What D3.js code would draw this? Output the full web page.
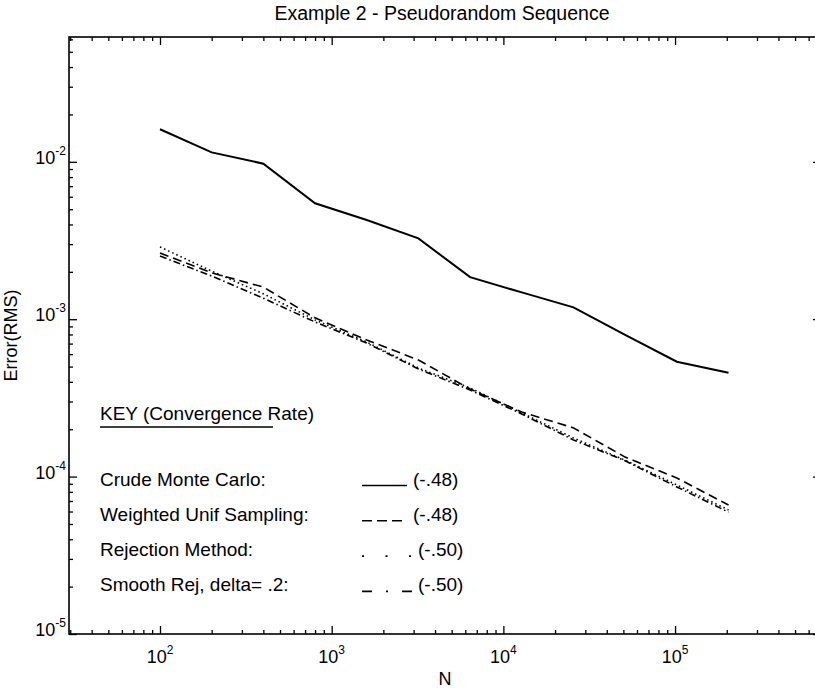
<!DOCTYPE html>
<html lang="en">
<head>
	<title>Example 2 - Pseudorandom Sequence</title>
	<meta charset="utf-8">
	<script src="https://d3js.org/d3.v7.min.js"></script>
	<style>
	body {margin: 0; background: #ffffff;}
	svg text {font-family: "Liberation Sans", Arial, Helvetica, sans-serif; fill: #000;}
	.axis path {display: none;}
	.axis line {stroke: #000; stroke-width: 1.3;}
	</style>
</head>
<body>
<div id="chart"></div>
<script>

// Sample sizes
var nValues = [100, 200, 400, 800, 1600, 3200, 6400, 12800, 25600, 51200, 102400, 204800];

// RMS error of each method
var crude = [0.0161, 0.01148, 0.00973, 0.00545, 0.00427, 0.00326, 0.00185, 0.00148, 0.00119, 0.000794, 0.000537, 0.000457];
var weighted = [0.00263, 0.00197, 0.00160, 0.00102, 0.000738, 0.000551, 0.000360, 0.000257, 0.000204, 0.000133, 0.0000980, 0.0000660];
var rejection = [0.00288, 0.00202, 0.00145, 0.00099, 0.000716, 0.000490, 0.000366, 0.000254, 0.000176, 0.000127, 0.0000885, 0.0000614];
var smoothRej = [0.00252, 0.00188, 0.00136, 0.00096, 0.000706, 0.000483, 0.000355, 0.000250, 0.000171, 0.000126, 0.0000860, 0.0000595];

// Legend text
var seriesNames = ["Crude Monte Carlo:", "Weighted Unif Sampling:", "Rejection Method:", "Smooth Rej, delta= .2:"];
var seriesRates = ["(-.48)", "(-.48)", "(-.50)", "(-.50)"];

// Tick labels (powers of ten)
var xPowers = [2, 3, 4, 5];
var yPowers = [-5, -4, -3, -2];

var width = 815;
var height = 692;
// plot box edges (right edge sits just past the picture)
var plotLeft = 69, plotRight = 821, plotTop = 37, plotBottom = 634;

var svg = d3.select("#chart").append("svg")
	.attr("width", width)
	.attr("height", height);

var xScale = d3.scaleLog()
	.domain([Math.pow(10, 1.47), Math.pow(10, 5.85)])
	.range([plotLeft, plotRight]);

var yScale = d3.scaleLog()
	.domain([1e-5, Math.pow(10, -1.207)])
	.range([plotBottom, plotTop]);

// major and minor tick values
var xMajor = xPowers.map(function(p){return Math.pow(10, p);});
var yMajor = yPowers.map(function(p){return Math.pow(10, p);});
var xMinor = [], yMinor = [];
for (var p = 1; p <= 5; p++) {
	for (var k = 2; k <= 9; k++) {
		var v = k * Math.pow(10, p);
		if (v > xScale.domain()[0] && v < xScale.domain()[1]) xMinor.push(v);
	}
}
for (var q = -5; q <= -2; q++) {
	for (var k2 = 2; k2 <= 9; k2++) {
		var w = k2 * Math.pow(10, q);
		if (w > yScale.domain()[0] && w < yScale.domain()[1]) yMinor.push(w);
	}
}

// inward ticks on all four sides
function addAxis(axisFn, scale, values, size, transform) {
	svg.append("g")
		.attr("class", "axis")
		.attr("transform", transform)
		.call(axisFn(scale).tickValues(values).tickSize(size).tickFormat(""));
}
addAxis(d3.axisBottom, xScale, xMajor, -8, "translate(0," + plotBottom + ")");
addAxis(d3.axisBottom, xScale, xMinor, -4, "translate(0," + plotBottom + ")");
addAxis(d3.axisTop, xScale, xMajor, -8, "translate(0," + plotTop + ")");
addAxis(d3.axisTop, xScale, xMinor, -4, "translate(0," + plotTop + ")");
addAxis(d3.axisLeft, yScale, yMajor, -8, "translate(" + plotLeft + ",0)");
addAxis(d3.axisLeft, yScale, yMinor, -4, "translate(" + plotLeft + ",0)");
addAxis(d3.axisRight, yScale, yMajor, -8, "translate(" + plotRight + ",0)");
addAxis(d3.axisRight, yScale, yMinor, -4, "translate(" + plotRight + ",0)");

// frame
svg.append("rect")
	.attr("x", plotLeft)
	.attr("y", plotTop)
	.attr("width", plotRight - plotLeft)
	.attr("height", plotBottom - plotTop)
	.attr("fill", "none")
	.attr("stroke", "#000")
	.attr("stroke-width", 1.6);

// x tick labels
var xLab = svg.selectAll(".xlab")
	.data(xPowers)
	.enter()
	.append("text")
		.attr("class", "xlab")
		.attr("x", function(d){return xScale(Math.pow(10, d));})
		.attr("y", 663)
		.attr("text-anchor", "middle")
		.style("font-size", "18px");
xLab.append("tspan").text("10");
xLab.append("tspan").attr("dy", -9).style("font-size", "12px").text(function(d){return d;});

// y tick labels
var yLab = svg.selectAll(".ylab")
	.data(yPowers)
	.enter()
	.append("text")
		.attr("class", "ylab")
		.attr("x", 66)
		.attr("y", function(d){return yScale(Math.pow(10, d)) + 2;})
		.attr("text-anchor", "end")
		.style("font-size", "18px");
yLab.append("tspan").text("10");
yLab.append("tspan").attr("dy", -9).style("font-size", "12px").text(function(d){return d;});

// title and axis titles
svg.append("text")
	.attr("x", (plotLeft + plotRight) / 2 - 3)
	.attr("y", 20)
	.attr("text-anchor", "middle")
	.style("font-size", "19.5px")
	.text("Example 2 - Pseudorandom Sequence");

svg.append("text")
	.attr("x", 445)
	.attr("y", 685)
	.attr("text-anchor", "middle")
	.style("font-size", "18px")
	.text("N");

svg.append("text")
	.attr("transform", "translate(17," + ((plotTop + plotBottom) / 2) + ") rotate(-90)")
	.attr("text-anchor", "middle")
	.style("font-size", "18px")
	.text("Error(RMS)");

// series lines
var allSeries = [crude, weighted, rejection, smoothRej];
var dashes = [null, "9,5", "1.5,3", "7,3,1.5,3"];

var line = d3.line()
	.x(function(d, i){return xScale(nValues[i]);})
	.y(function(d){return yScale(d);});

svg.selectAll(".series")
	.data(allSeries)
	.enter()
	.append("path")
		.attr("class", "series")
		.attr("d", line)
		.attr("fill", "none")
		.attr("stroke", "#000")
		.attr("stroke-width", function(d, i){return i == 0 ? 2 : 1.6;})
		.attr("stroke-dasharray", function(d, i){return dashes[i];});

// key
svg.append("text")
	.attr("x", 100)
	.attr("y", 420)
	.style("font-size", "19px")
	.text("KEY (Convergence Rate)");
svg.append("line")
	.attr("x1", 100).attr("x2", 273)
	.attr("y1", 427).attr("y2", 427)
	.attr("stroke", "#000")
	.attr("stroke-width", 1.4);

var rowY = function(i){return 485.5 + i * 35.3;};

svg.selectAll(".keyname")
	.data(seriesNames)
	.enter()
	.append("text")
		.attr("class", "keyname")
		.attr("x", 100)
		.attr("y", function(d, i){return rowY(i);})
		.style("font-size", "19px")
		.text(function(d){return d;});

var rateX = [413, 413, 418, 418];
svg.selectAll(".keyrate")
	.data(seriesRates)
	.enter()
	.append("text")
		.attr("class", "keyrate")
		.attr("x", function(d, i){return rateX[i];})
		.attr("y", function(d, i){return rowY(i);})
		.style("font-size", "19px")
		.text(function(d){return d;});

// key samples
var sampleDash = [null, "10,5", "2,21.5", "10,14,2,14"];
var sampleEnd = [407, 407, 412, 413];
svg.selectAll(".keyline")
	.data(sampleDash)
	.enter()
	.append("line")
		.attr("class", "keyline")
		.attr("x1", 362)
		.attr("x2", function(d, i){return sampleEnd[i];})
		.attr("y1", function(d, i){return rowY(i);})
		.attr("y2", function(d, i){return rowY(i);})
		.attr("stroke", "#000")
		.attr("stroke-width", 1.6)
		.attr("stroke-dasharray", function(d){return d;});

</script>
</body>
</html>
